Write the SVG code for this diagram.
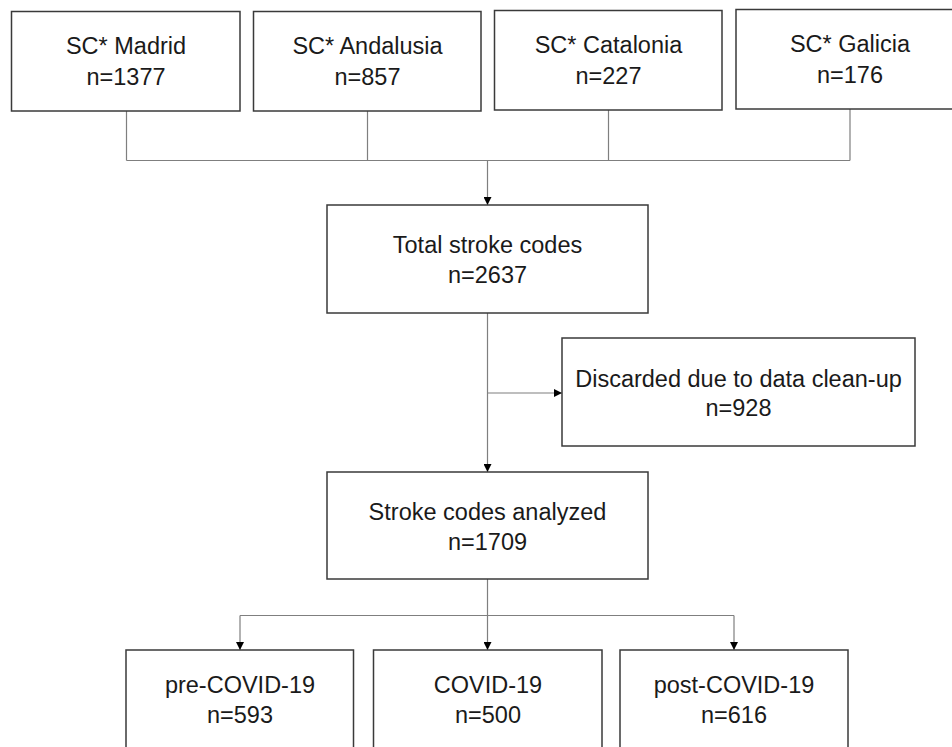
<svg xmlns="http://www.w3.org/2000/svg" width="952" height="747" viewBox="0 0 952 747">
  <defs>
    <marker id="arr" viewBox="0 0 10 10" refX="10" refY="5" markerWidth="8" markerHeight="8" markerUnits="userSpaceOnUse" orient="auto">
      <path d="M0,0 L10,5 L0,10 Z" fill="#000"/>
    </marker>
  </defs>
  <style>
    .box { fill: #ffffff; stroke: #3a3a3a; stroke-width: 1.5; }
    .lbl { font-family: "Liberation Sans", Arial, sans-serif; font-size: 23.5px; fill: #1a1a1a; text-anchor: middle; }
    .con { fill: none; stroke: #7f7f7f; stroke-width: 1.2; }
    .arw { fill: none; stroke: #7f7f7f; stroke-width: 1.2; marker-end: url(#arr); }
  </style>
  <rect width="952" height="747" fill="#ffffff"/>

  <g id="connectors">
    <path class="con" d="M126.5,111 V160.5 M367.5,111 V160.5 M608.5,110 V160.5 M850,109 V160.5 M126.5,160.5 H850"/>
    <path class="arw" d="M487.5,160.5 V205"/>
    <path class="arw" d="M487.5,313 V472"/>
    <path class="arw" d="M487.5,393 H562"/>
    <path class="arw" d="M487.5,579 V650"/>
    <path class="con" d="M240,615.5 H734"/>
    <path class="arw" d="M240,615.5 V650"/>
    <path class="arw" d="M734,615.5 V650"/>
  </g>

  <g id="sc-madrid">
    <rect class="box" x="11.5" y="11.5" width="228.5" height="99.5"/>
    <text class="lbl" x="126" y="54">SC* Madrid</text>
    <text class="lbl" x="126" y="85">n=1377</text>
  </g>
  <g id="sc-andalusia">
    <rect class="box" x="253.5" y="11.5" width="227.5" height="99.5"/>
    <text class="lbl" x="367.5" y="54">SC* Andalusia</text>
    <text class="lbl" x="367.5" y="85">n=857</text>
  </g>
  <g id="sc-catalonia">
    <rect class="box" x="494.5" y="10.5" width="227.5" height="99.5"/>
    <text class="lbl" x="608.5" y="53">SC* Catalonia</text>
    <text class="lbl" x="608.5" y="84">n=227</text>
  </g>
  <g id="sc-galicia">
    <rect class="box" x="736" y="9.5" width="228" height="99.5"/>
    <text class="lbl" x="850" y="52">SC* Galicia</text>
    <text class="lbl" x="850" y="83">n=176</text>
  </g>

  <g id="total">
    <rect class="box" x="327" y="205" width="321" height="108"/>
    <text class="lbl" x="487.5" y="252.5">Total stroke codes</text>
    <text class="lbl" x="487.5" y="283">n=2637</text>
  </g>

  <g id="discarded">
    <rect class="box" x="562" y="338" width="353" height="108"/>
    <text class="lbl" x="738.5" y="386.5">Discarded due to data clean-up</text>
    <text class="lbl" x="738.5" y="416">n=928</text>
  </g>

  <g id="analyzed">
    <rect class="box" x="327" y="472" width="321" height="107"/>
    <text class="lbl" x="487.5" y="520">Stroke codes analyzed</text>
    <text class="lbl" x="487.5" y="550">n=1709</text>
  </g>

  <g id="pre-covid">
    <rect class="box" x="126" y="650" width="227.5" height="110"/>
    <text class="lbl" x="240" y="693">pre-COVID-19</text>
    <text class="lbl" x="240" y="723">n=593</text>
  </g>
  <g id="covid">
    <rect class="box" x="373.5" y="650" width="228.5" height="110"/>
    <text class="lbl" x="488" y="693">COVID-19</text>
    <text class="lbl" x="488" y="723">n=500</text>
  </g>
  <g id="post-covid">
    <rect class="box" x="620" y="650" width="228" height="110"/>
    <text class="lbl" x="734" y="693">post-COVID-19</text>
    <text class="lbl" x="734" y="723">n=616</text>
  </g>
</svg>
